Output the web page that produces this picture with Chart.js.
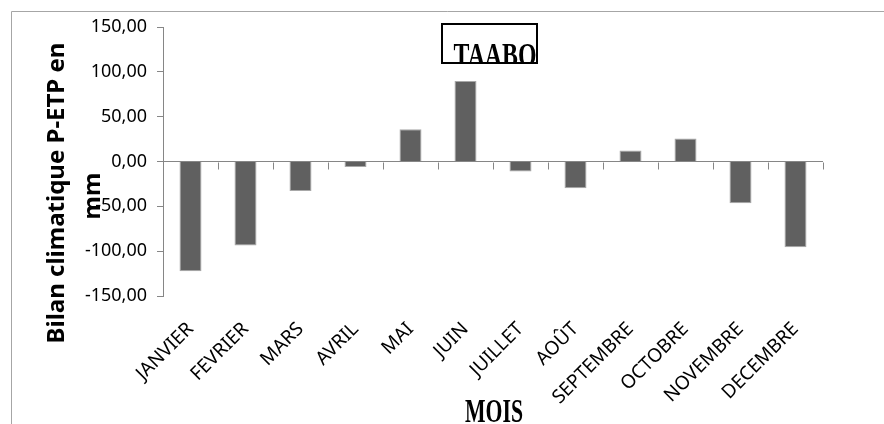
<!DOCTYPE html>
<html>
<head>
<meta charset="utf-8">
<script src="https://cdn.jsdelivr.net/npm/chart.js@4.4.1/dist/chart.umd.min.js"></script>
<style>
  html, body { margin: 0; padding: 0; background: #fff; }
  canvas { display: block; }
</style>
</head>
<body>
<canvas id="bilan" width="884" height="424"></canvas>
<script>
// Bilan climatique P-ETP (mm) - station TAABO
const mois = ['JANVIER', 'FEVRIER', 'MARS', 'AVRIL', 'MAI', 'JUIN', 'JUILLET', 'AOÛT', 'SEPTEMBRE', 'OCTOBRE', 'NOVEMBRE', 'DECEMBRE'];
const bilan = [-122.3, -93.7, -32.8, -6.0, 36.0, 89.9, -11.2, -29.8, 12.3, 25.6, -46.5, -95.6];
const yTicks = [-150, -100, -50, 0, 50, 100, 150];

const axisGrey = '#868686';

// cadre, titres et petits traits de l'axe des catégories
const decor = {
    id: 'decor',
    beforeDraw(chart) {
        const c = chart.ctx;
        c.save();
        c.fillStyle = '#fff';
        c.fillRect(0, 0, chart.width, chart.height);
        c.strokeStyle = '#a6a6a6';
        c.lineWidth = 1;
        c.beginPath();
        c.moveTo(11.5, chart.height);
        c.lineTo(11.5, 11.5);
        c.lineTo(chart.width, 11.5);
        c.stroke();
        c.restore();
    },
    afterDraw(chart) {
        const c = chart.ctx;
        const area = chart.chartArea;
        const y0 = Math.round(chart.scales.y.getPixelForValue(0)) + 0.5;

        // traits entre les mois, sous la ligne du zéro
        c.save();
        c.strokeStyle = axisGrey;
        c.lineWidth = 1;
        const step = (area.right - area.left) / mois.length;
        c.beginPath();
        for (let k = 1; k <= mois.length; k++) {
            const x = Math.round(area.left + k * step) + 0.5;
            c.moveTo(x, y0);
            c.lineTo(x, y0 + 7);
        }
        c.stroke();
        c.restore();

        // titre de l'axe vertical (deux lignes)
        c.save();
        c.fillStyle = '#000';
        c.font = 'bold 24px "Noto Sans"';
        c.textAlign = 'center';
        c.textBaseline = 'alphabetic';
        c.translate(64, 193);
        c.rotate(-Math.PI / 2);
        c.fillText('Bilan climatique P-ETP en', 0, 0);
        c.restore();
        c.save();
        c.fillStyle = '#000';
        c.font = 'bold 24px "Noto Sans"';
        c.textAlign = 'center';
        c.translate(100, 196);
        c.rotate(-Math.PI / 2);
        c.fillText('mm', 0, 0);
        c.restore();

        // MOIS
        drawSerif(c, 'MOIS', 494, 422, 58);

        // TAABO dans son cadre
        c.save();
        c.beginPath();
        c.rect(443, 25, 93, 37);
        c.clip();
        drawSerif(c, 'TAABO', 495, 66, 83);
        c.restore();
        c.save();
        c.strokeStyle = '#000';
        c.lineWidth = 2;
        c.strokeRect(442, 24, 95, 39);
        c.restore();
    }
};

function drawSerif(c, txt, cx, baseY, targetW) {
    c.save();
    c.font = 'bold 33px "Liberation Serif"';
    const w = c.measureText(txt).width;
    c.translate(cx, baseY);
    c.scale(targetW / w, 1);
    c.fillStyle = '#000';
    c.textAlign = 'center';
    c.textBaseline = 'alphabetic';
    c.fillText(txt, 0, 0);
    c.restore();
}

new Chart(document.getElementById('bilan'), {
    type: 'bar',
    data: {
        labels: mois,
        datasets: [{
            data: bilan,
            backgroundColor: '#606060',
            borderColor: '#a8a8a8',
            borderWidth: 1,
            barPercentage: 0.4,
            categoryPercentage: 1.0
        }]
    },
    options: {
        responsive: false,
        animation: false,
        layout: { padding: { top: 27, right: 61, left: 0, bottom: 0 } },
        plugins: {
            legend: { display: false },
            tooltip: { enabled: false }
        },
        scales: {
            x: {
                grid: { display: false, drawTicks: false },
                border: { display: false },
                ticks: {
                    autoSkip: false,
                    maxRotation: 45,
                    minRotation: 45,
                    padding: 22,
                    color: '#000',
                    font: { family: 'Noto Sans', size: 19 }
                },
                afterFit(scale) { scale.height = 128; }
            },
            y: {
                min: -150,
                max: 150,
                afterBuildTicks(scale) {
                    scale.ticks = yTicks.map(v => ({ value: v }));
                },
                border: { display: true, color: axisGrey, width: 1 },
                grid: {
                    drawTicks: true,
                    tickLength: 6,
                    tickColor: axisGrey,
                    color: ctx => (ctx.tick && ctx.tick.value === 0) ? axisGrey : 'rgba(0,0,0,0)'
                },
                ticks: {
                    padding: 10,
                    color: '#000',
                    font: { family: 'Noto Sans', size: 18 },
                    callback: v => v.toFixed(2).replace('.', ',')
                },
                afterFit(scale) { scale.width = 163; }
            }
        }
    },
    plugins: [decor]
});
</script>
</body>
</html>
